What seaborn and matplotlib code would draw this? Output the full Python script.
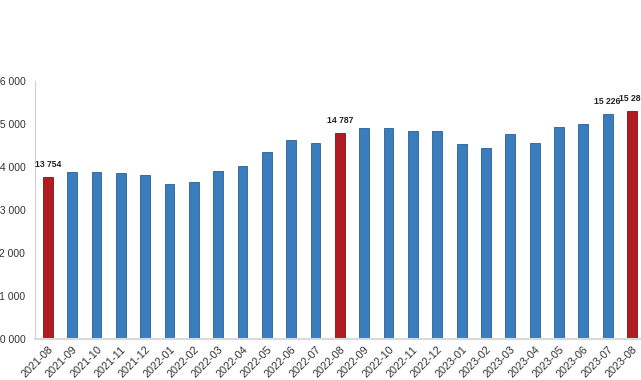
import matplotlib
matplotlib.use("Agg")
import matplotlib.pyplot as plt
import seaborn as sns
import pandas as pd

months = ["2021-08", "2021-09", "2021-10", "2021-11", "2021-12",
          "2022-01", "2022-02", "2022-03", "2022-04", "2022-05", "2022-06", "2022-07",
          "2022-08", "2022-09", "2022-10", "2022-11", "2022-12",
          "2023-01", "2023-02", "2023-03", "2023-04", "2023-05", "2023-06", "2023-07",
          "2023-08"]
values = [13754, 13890, 13868, 13859, 13812,
          13589, 13643, 13891, 14014, 14346, 14633, 14564,
          14787, 14908, 14894, 14833, 14821,
          14535, 14446, 14765, 14548, 14934, 14983, 15226,
          15288]
highlight = ["2021-08", "2022-08", "2023-08"]
labelled = ["2021-08", "2022-08", "2023-07", "2023-08"]
yticks = [10000, 11000, 12000, 13000, 14000, 15000, 16000]

df = pd.DataFrame({"month": months, "value": values})
df["kind"] = ["red" if m in highlight else "blue" for m in months]

sns.set_theme(style="white")
plt.rcParams["font.family"] = ["Liberation Sans", "DejaVu Sans"]

fig = plt.figure(figsize=(6.41, 3.80), dpi=100)
ax = fig.add_axes([35 / 641, 41 / 380, (641 - 35) / 641, (339 - 80.7) / 380])

palette = {"blue": "#3a7dbf", "red": "#b01c21"}
sns.barplot(data=df, x="month", y="value", hue="kind", palette=palette,
            dodge=False, width=0.4, legend=False, ax=ax, saturation=1)
edge = {"blue": "#2c5f8f", "red": "#7e1216"}
for patch in ax.patches:
    xc = patch.get_x() + patch.get_width() / 2
    idx = int(round(xc))
    if 0 <= idx < len(months) and patch.get_height() > 0:
        patch.set_edgecolor(edge[df["kind"][idx]])
        patch.set_linewidth(0.6)

ax.set_ylim(10000, 16000)
ax.set_xlim(-0.53, 24.37)
ax.set_yticks(yticks)
ax.set_yticklabels([f"{v:,}".replace(",", " ") for v in yticks])
ax.tick_params(axis="y", labelsize=7.5, colors="#333333", pad=7, length=0)
ax.tick_params(axis="x", labelsize=7.8, colors="#333333", pad=4, length=0)
for lbl in ax.get_xticklabels():
    lbl.set_rotation(45)
    lbl.set_ha("right")
    lbl.set_rotation_mode("anchor")
ax.set_xlabel("")
ax.set_ylabel("")

for s in ["top", "right"]:
    ax.spines[s].set_visible(False)
ax.spines["left"].set_color("#d0d0d0")
ax.spines["left"].set_linewidth(0.8)
ax.spines["bottom"].set_color("#d9d9d9")
ax.spines["bottom"].set_linewidth(1.5)

for i, m in enumerate(months):
    if m in labelled:
        ax.annotate(f"{values[i]:,}".replace(",", " "), (i, values[i]),
                    xytext=(0, 6), textcoords="offset points",
                    ha="center", va="bottom", fontsize=6.2,
                    fontweight="bold", color="#222222")

fig.savefig("out.png", dpi=100)
